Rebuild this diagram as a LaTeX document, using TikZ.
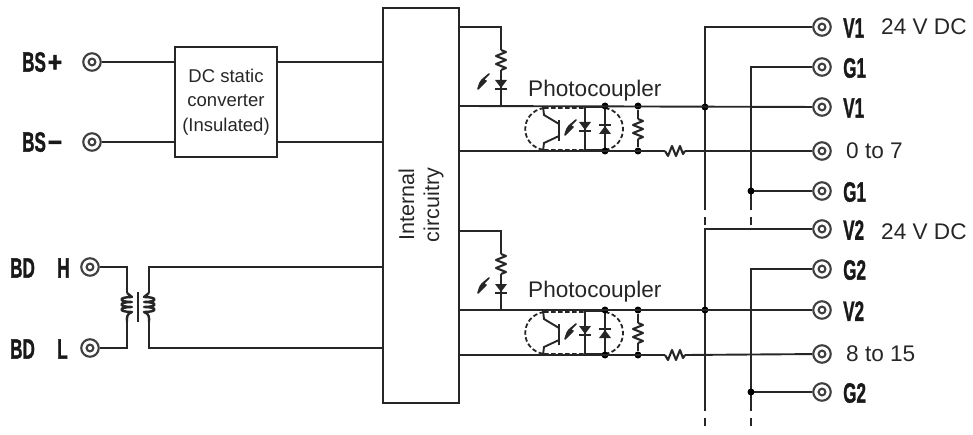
\documentclass[tikz,border=0pt]{standalone}
\usepackage{fontspec}
\usepackage{graphicx}
\setmainfont{Liberation Sans}
\newfontfamily\glabf[FakeBold=1.6]{Liberation Sans Bold}
\usetikzlibrary{calc}
\newcommand{\txtsize}[2]{\fontsize{#1}{#2}\selectfont}
\newcommand{\glab}[1]{\scalebox{0.61}[1]{\fontsize{28}{28}\selectfont\glabf #1}}
\newcommand{\wsym}[1]{\hspace{3pt}\scalebox{1.45}[1]{#1}}
\tikzset{
  x=1pt,y=-1pt,
  wire/.style={line width=1.9pt,draw=black!85},
  term/.style={circle,draw=black!75,line width=2.1pt,minimum size=17.5pt,inner sep=0pt,
    path picture={\draw[line width=2.1pt,black!75] (path picture bounding box.center) circle (3.4pt);}},
  dotj/.style={circle,fill=black,minimum size=7pt,inner sep=0pt},
  boxn/.style={draw=black!85,line width=1.9pt,inner sep=0pt,align=center},
  lbl/.style={inner sep=0pt,text=black!85,font=\txtsize{22.6}{26}},
  glabn/.style={inner sep=0pt,text=black!90},
  part/.style={line width=2.1pt,black!85,line join=round},
  pics/vres/.style={code={\draw[part] (0,-10) -- (5,-8) -- (-5,-4) -- (5,0) -- (-5,4) -- (5,8) -- (0,10);}},
  pics/hres/.style={code={\draw[part] (-10,0) -- (-7,5) -- (-3,-5) -- (1,5) -- (5,-5) -- (8,3) -- (10,0);}},
  pics/bolt/.style={code={\draw[line width=1.6pt,black!85,fill=black!85,line join=round] (5,-8) -- (-1,-2) -- (2,-1) -- (-6,7) -- (-4,1) -- (-2,-2) -- cycle;}},
  pics/dioded/.style={code={\fill[black!85] (-6,-4) -- (6,-4) -- (0,4) -- cycle; \draw[part] (-6,5) -- (6,5);}},
  pics/diodeu/.style={code={\fill[black!85] (-6,4) -- (6,4) -- (0,-4) -- cycle; \draw[part] (-6,-5) -- (6,-5);}},
}
\begin{document}
\begin{tikzpicture}
\useasboundingbox (0,0) rectangle (973,435);

% main boxes
\node[boxn,minimum width=76pt,minimum height=395pt] (ic) at (421,205.5) {};
\node[inner sep=0pt,rotate=90,align=center,text=black!85,font=\txtsize{21.5}{25}] (ict) at (421,205) {Internal\\circuitry};
\node[boxn,minimum width=102pt,minimum height=110pt,text=black!85,font=\txtsize{18.5}{24.5}] (dc) at (226,102) {DC static\\converter\\(Insulated)};

% left terminals
\node[term] (bsp) at (92,62) {};
\node[term] (bsm) at (92,142) {};
\node[term] (bdh) at (90,267) {};
\node[term] (bdl) at (90,348) {};
\node[glabn,anchor=west] (l1) at (22,62) {\glab{BS\wsym{+}}};
\node[glabn,anchor=west] (l2) at (22,142) {\glab{BS\wsym{−}}};
\node[glabn,anchor=west] (l3) at (10,268) {\glab{BD}};
\node[glabn,anchor=west] (l4) at (57,268) {\glab{H}};
\node[glabn,anchor=west] (l5) at (10,349) {\glab{BD}};
\node[glabn,anchor=west] (l6) at (57,349) {\glab{L}};

\draw[wire] (bsp) -- (dc.west |- bsp);
\draw[wire] (bsm) -- (dc.west |- bsm);
\draw[wire] (dc.east |- bsp) -- (ic.west |- bsp);
\draw[wire] (dc.east |- bsm) -- (ic.west |- bsm);

% transformer
\coordinate (pt) at (127,293); \coordinate (pb) at (127,322);
\coordinate (st) at (149,293); \coordinate (sb) at (149,322);
\draw[wire] (bdh) -- (127,267) -- (pt);
\draw[wire] (bdl) -- (127,348) -- (pb);
\draw[wire] (ic.west |- bdh) -- (149,267) -- (st);
\draw[wire] (ic.west |- bdl) -- (149,348) -- (sb);
\draw[line width=1.5pt,black!85] (138,292) -- (138,322);
\draw[part,line width=2.4pt] (pt) -- (132,297)
  .. controls (118,297) and (118,302) .. (132,302)
  .. controls (118,302) and (118,307) .. (132,307)
  .. controls (118,307) and (118,312) .. (132,312)
  .. controls (126,314) and (127,318) .. (pb);
\draw[part,line width=2.4pt] (st) -- (144,297)
  .. controls (158,297) and (158,302) .. (144,302)
  .. controls (158,302) and (158,307) .. (144,307)
  .. controls (158,307) and (158,312) .. (144,312)
  .. controls (150,314) and (149,318) .. (sb);

% isolated output sections
\foreach \s/\dy in {a/0,b/204}{
\begin{scope}[shift={(0,\dy)}]
  \coordinate (up\s) at (459,27);
  \coordinate (tap\s) at (501,106);
  \draw[wire] (up\s) -- (501,27) -- (501,50);
  \draw[wire] (501,70) -- (tap\s);
  \pic at (501,60) {vres};
  \pic at (501,84) {dioded};
  \pic at (484,82) {bolt};
  % photocoupler body
  \draw[line width=1.8pt,black!85,dash pattern=on 4.5pt off 2.5pt]
    (544,108) -- (585,108) (544,150) -- (585,150)
    (544,108) .. controls (519,112) and (519,146) .. (544,150)
    (605,108) .. controls (629,112) and (629,146) .. (605,150);
  % phototransistor
  \draw[line width=2.2pt,black!85] (559,120) -- (559,141);
  \draw[wire] (543,106) -- (544,115) -- (559,124);
  \draw[wire] (543,151) -- (544,143) -- (559,136);
  \pic at (571,128) {bolt};
  % diodes
  \draw[line width=2.2pt,black!85] (585,107) rectangle (605,150);
  \pic at (585,126) {dioded};
  \pic at (605,130) {diodeu};
  % dots and parallel resistor
  \node[dotj] (d1\s) at (605,106) {};
  \node[dotj] (d2\s) at (605,151) {};
  \node[dotj] (d3\s) at (638,106) {};
  \node[dotj] (d4\s) at (638,151) {};
  \draw[wire] (d3\s) -- (638,119);
  \draw[wire] (638,139) -- (d4\s);
  \pic at (638,129) {vres};
  \pic at (675,151) {hres};
\end{scope}
}

% right terminals
\node[term] (v1a) at (822,27) {};
\node[term] (g1a) at (822,67) {};
\node[term] (v1b) at (822,107) {};
\node[term] (io1) at (822,151) {};
\node[term] (g1b) at (822,191) {};
\node[term] (v2a) at (822,229) {};
\node[term] (g2a) at (822,269) {};
\node[term] (v2b) at (822,310) {};
\node[term] (io2) at (822,354) {};
\node[term] (g2b) at (822,392) {};

\node[glabn,anchor=west] (r1) at (843,28) {\glab{V1}};
\node[glabn,anchor=west] (r2) at (843,68) {\glab{G1}};
\node[glabn,anchor=west] (r3) at (843,108) {\glab{V1}};
\node[glabn,anchor=west] (r4) at (843,192) {\glab{G1}};
\node[glabn,anchor=west] (r5) at (843,230) {\glab{V2}};
\node[glabn,anchor=west] (r6) at (843,270) {\glab{G2}};
\node[glabn,anchor=west] (r7) at (843,311) {\glab{V2}};
\node[glabn,anchor=west] (r8) at (843,393) {\glab{G2}};
\node[lbl,anchor=west] (t1) at (881,27) {24 V DC};
\node[lbl,anchor=west] (t2) at (881,232) {24 V DC};
\node[lbl,anchor=west] (t3) at (846,151) {0 to 7};
\node[lbl,anchor=west] (t4) at (846,354) {8 to 15};
\node[lbl,anchor=west] (t5) at (528,91) {Photocoupler};
\node[lbl,anchor=west] (t6) at (528,292) {Photocoupler};

% buses
\foreach \tv/\tg/\ls/\bs in {v1a/g1a/v1b/g1b,v2a/g2a/v2b/g2b}{
  \draw[wire] (\tv) -- (705,0 |- \tv) -- ($(705,0 |- \bs)+(0,19)$);
  \draw[wire] ($(705,0 |- \bs)+(0,26)$) -- ($(705,0 |- \bs)+(0,34)$);
  \draw[wire] (\tg) -- (751,0 |- \tg) -- ($(751,0 |- \bs)+(0,19)$);
  \draw[wire] ($(751,0 |- \bs)+(0,26)$) -- ($(751,0 |- \bs)+(0,34)$);
  \draw[wire] (\bs) -- (751,0 |- \bs);
  \node[dotj] at (751,0 |- \bs) {};
  \node[dotj] at (705,0 |- \ls) {};
}

% horizontal signal wires
\draw[wire] (ic.east |- 0,106) -- (v1b);
\draw[wire] (ic.east |- 0,151) -- (665,151);
\draw[wire] (685,151) -- (io1);
\draw[wire] (ic.east |- 0,310) -- (v2b);
\draw[wire] (ic.east |- 0,355) -- (665,355);
\draw[wire] (685,355) -- (io2);
\end{tikzpicture}
\end{document}
